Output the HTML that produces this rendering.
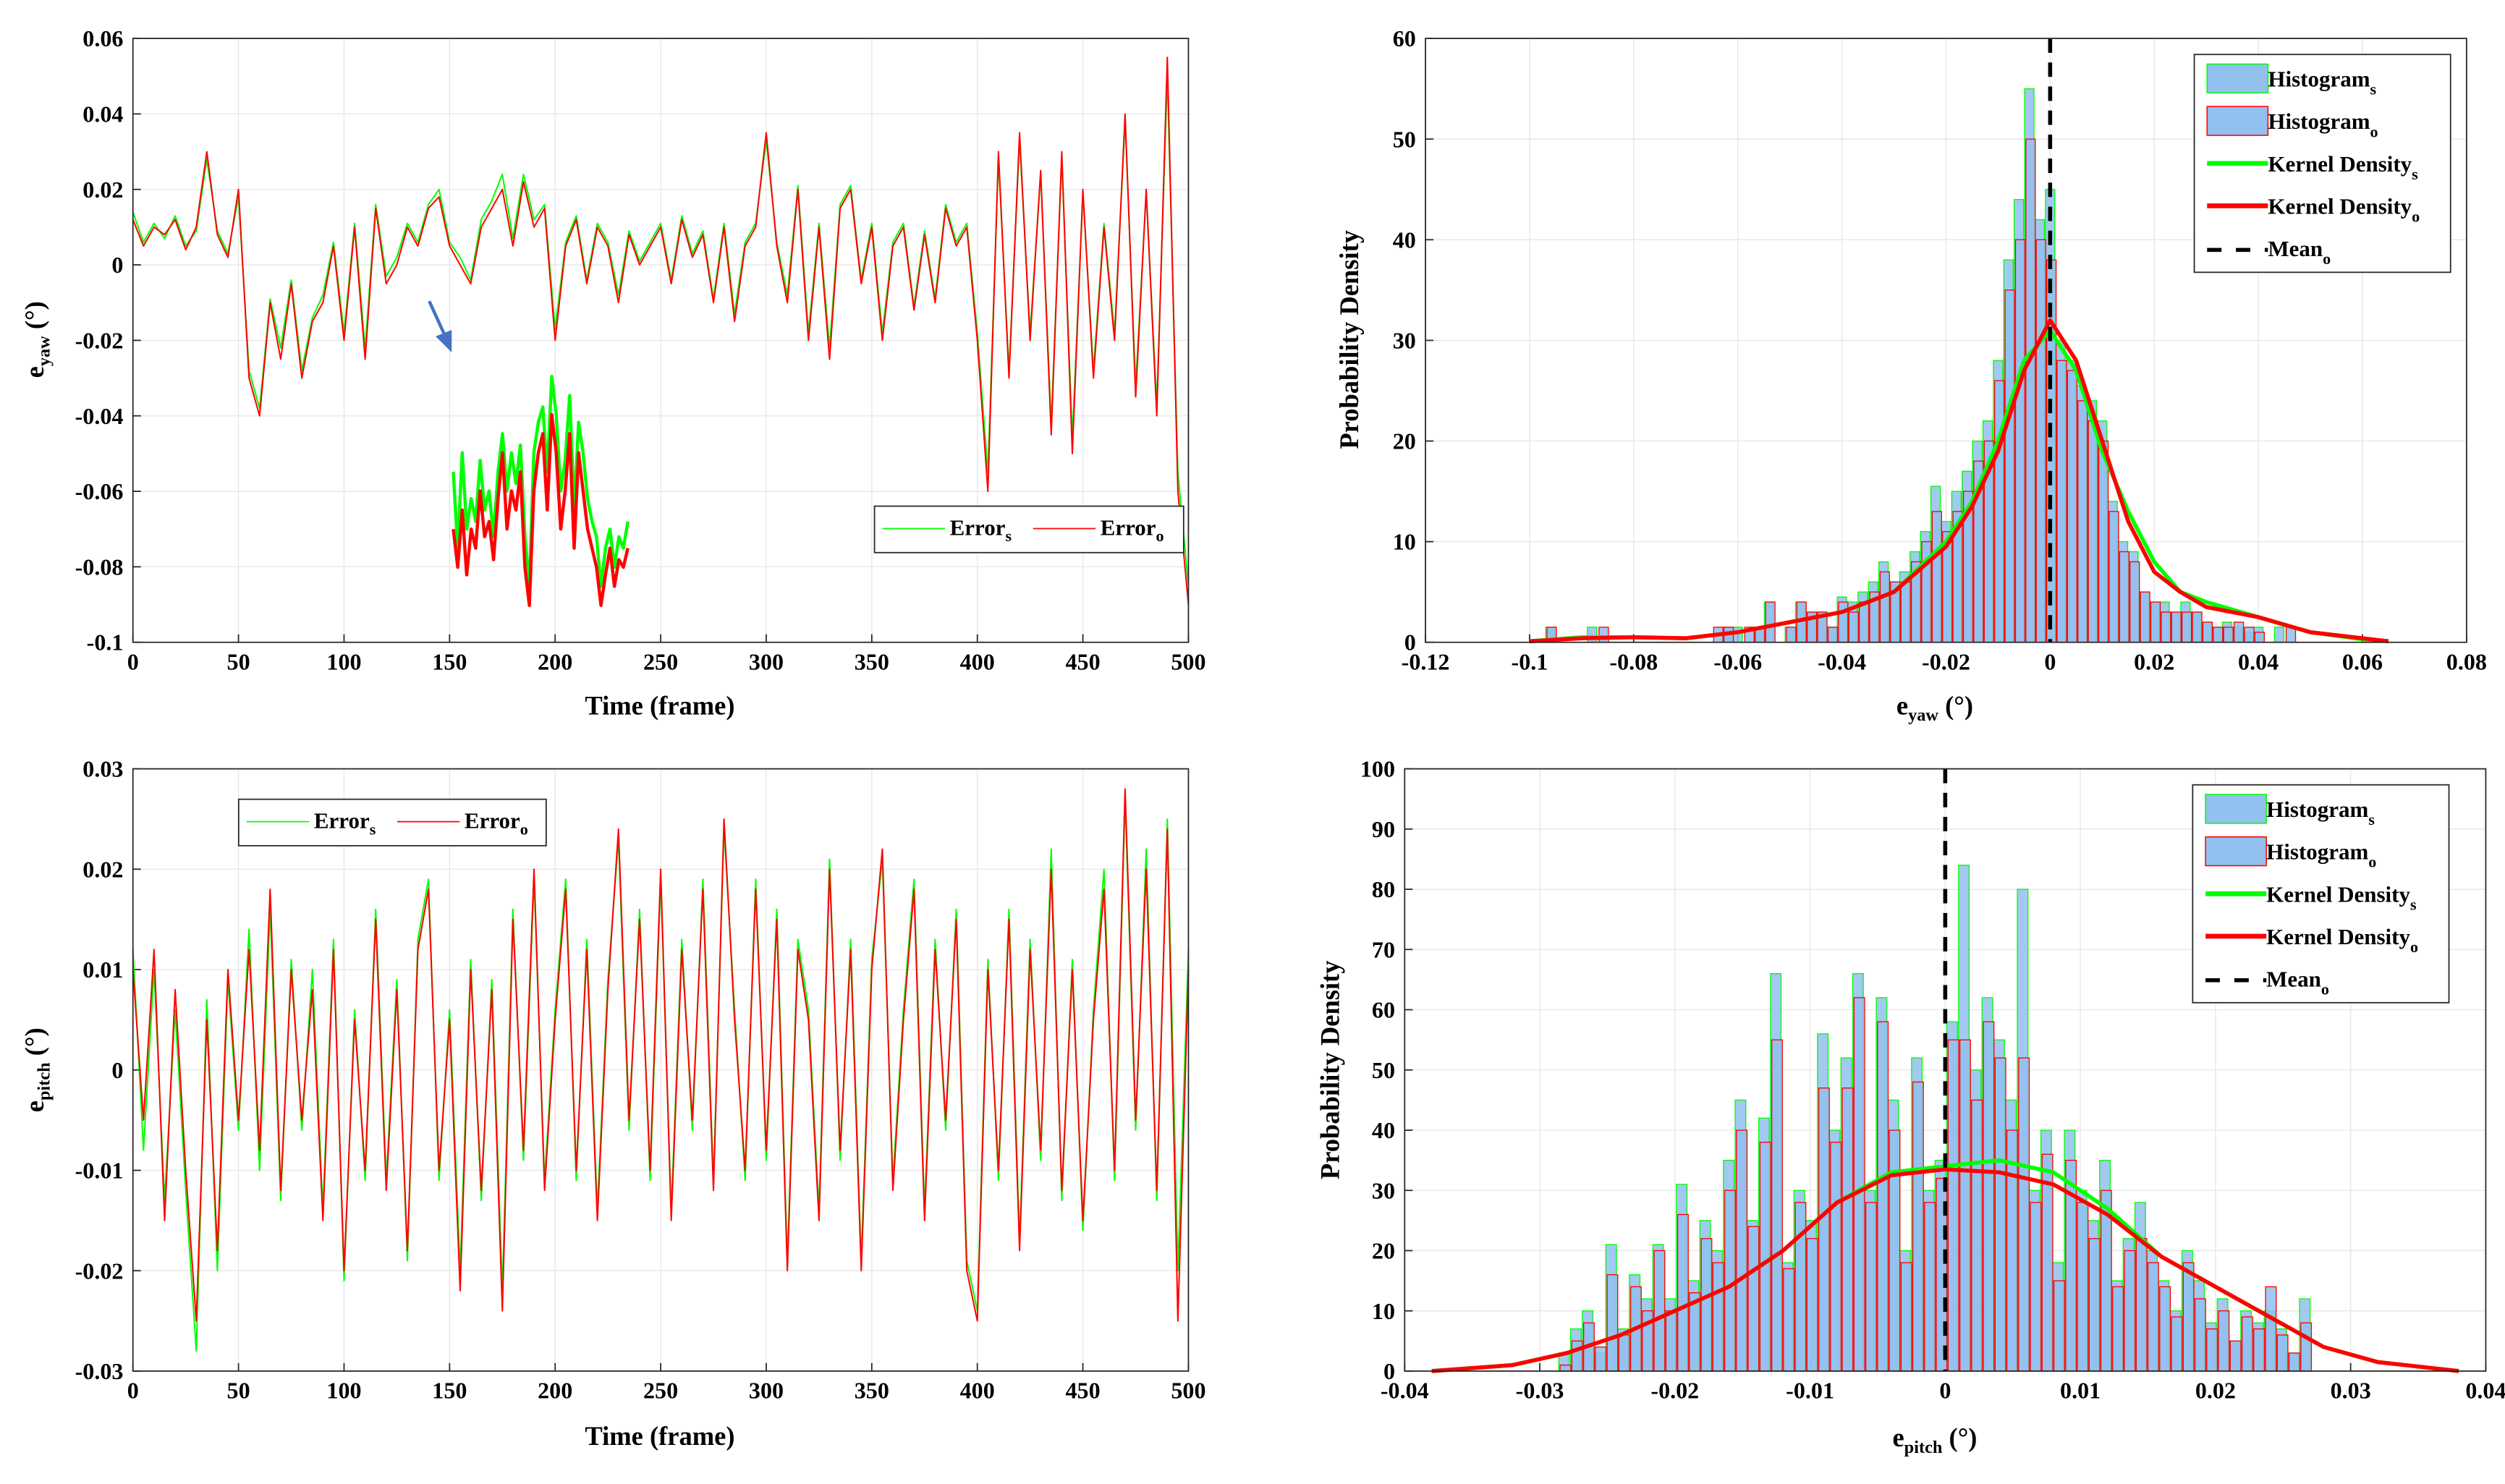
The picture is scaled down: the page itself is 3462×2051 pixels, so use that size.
<!DOCTYPE html>
<html><head><meta charset="utf-8"><style>
html,body{margin:0;padding:0;background:#fff}
svg{display:block}
text{font-family:"Liberation Serif",serif;font-weight:bold;fill:#000}
</style></head><body>
<svg id="fig" xmlns="http://www.w3.org/2000/svg" width="3462" height="2051" viewBox="0 0 1564 926.5" preserveAspectRatio="none"></svg>
<script>
// ---------- DATA ----------
const frames = [];for(let i=0;i<=100;i++)frames.push(i*5);
const yawO = [0.012,0.005,0.01,0.008,0.012,0.004,0.01,0.03,0.008,0.002,0.02,-0.03,-0.04,-0.01,-0.025,-0.005,-0.03,-0.015,-0.01,0.005,-0.02,0.01,-0.025,0.015,-0.005,0,0.01,0.005,0.015,0.018,0.005,0,-0.005,0.01,0.015,0.02,0.005,0.022,0.01,0.015,-0.02,0.005,0.012,-0.005,0.01,0.005,-0.01,0.008,0,0.005,0.01,-0.005,0.012,0.002,0.008,-0.01,0.01,-0.015,0.005,0.01,0.035,0.005,-0.01,0.02,-0.02,0.01,-0.025,0.015,0.02,-0.005,0.01,-0.02,0.005,0.01,-0.012,0.008,-0.01,0.015,0.005,0.01,-0.02,-0.06,0.03,-0.03,0.035,-0.02,0.025,-0.045,0.03,-0.05,0.02,-0.03,0.01,-0.02,0.04,-0.035,0.02,-0.04,0.055,-0.06,-0.09];
const yawS = [0.014,0.006,0.011,0.007,0.013,0.005,0.009,0.028,0.009,0.003,0.018,-0.028,-0.038,-0.009,-0.022,-0.004,-0.028,-0.014,-0.008,0.006,-0.018,0.011,-0.022,0.016,-0.003,0.002,0.011,0.006,0.016,0.02,0.006,0.002,-0.004,0.012,0.017,0.024,0.007,0.024,0.012,0.016,-0.017,0.006,0.013,-0.004,0.011,0.006,-0.008,0.009,0.001,0.006,0.011,-0.004,0.013,0.003,0.009,-0.009,0.011,-0.013,0.006,0.011,0.033,0.006,-0.008,0.021,-0.018,0.011,-0.022,0.016,0.021,-0.004,0.011,-0.018,0.006,0.011,-0.011,0.009,-0.009,0.016,0.006,0.011,-0.018,-0.055,0.028,-0.028,0.033,-0.018,0.024,-0.042,0.028,-0.046,0.019,-0.028,0.011,-0.018,0.038,-0.032,0.019,-0.037,0.05,-0.055,-0.085];
const pitchO = [0.01,-0.005,0.012,-0.015,0.008,-0.01,-0.025,0.005,-0.018,0.01,-0.005,0.012,-0.008,0.018,-0.012,0.01,-0.005,0.008,-0.015,0.012,-0.02,0.005,-0.01,0.015,-0.012,0.008,-0.018,0.012,0.018,-0.01,0.005,-0.022,0.01,-0.012,0.008,-0.024,0.015,-0.008,0.02,-0.012,0.005,0.018,-0.01,0.012,-0.015,0.008,0.024,-0.005,0.015,-0.01,0.02,-0.015,0.012,-0.005,0.018,-0.012,0.025,0.005,-0.01,0.018,-0.008,0.015,-0.02,0.012,0.005,-0.015,0.02,-0.008,0.012,-0.02,0.01,0.022,-0.012,0.005,0.018,-0.015,0.012,-0.005,0.015,-0.02,-0.025,0.01,-0.01,0.015,-0.018,0.012,-0.008,0.02,-0.012,0.01,-0.015,0.005,0.018,-0.01,0.028,-0.005,0.02,-0.012,0.024,-0.025,0.01];
const pitchS = [0.012,-0.008,0.01,-0.013,0.006,-0.012,-0.028,0.007,-0.02,0.009,-0.006,0.014,-0.01,0.016,-0.013,0.011,-0.006,0.01,-0.014,0.013,-0.021,0.006,-0.011,0.016,-0.011,0.009,-0.019,0.013,0.019,-0.011,0.006,-0.02,0.011,-0.013,0.009,-0.022,0.016,-0.009,0.019,-0.011,0.006,0.019,-0.011,0.013,-0.014,0.009,0.023,-0.006,0.016,-0.011,0.019,-0.014,0.013,-0.006,0.019,-0.011,0.024,0.006,-0.011,0.019,-0.009,0.016,-0.019,0.013,0.006,-0.014,0.021,-0.009,0.013,-0.019,0.011,0.021,-0.011,0.006,0.019,-0.014,0.013,-0.006,0.016,-0.019,-0.024,0.011,-0.011,0.016,-0.017,0.013,-0.009,0.022,-0.013,0.011,-0.016,0.006,0.02,-0.011,0.027,-0.006,0.022,-0.013,0.025,-0.02,0.012];
const insetO = [-0.07,-0.08,-0.065,-0.082,-0.07,-0.075,-0.06,-0.072,-0.068,-0.078,-0.062,-0.05,-0.07,-0.06,-0.065,-0.055,-0.08,-0.09,-0.06,-0.05,-0.045,-0.065,-0.04,-0.05,-0.07,-0.06,-0.045,-0.075,-0.05,-0.06,-0.07,-0.075,-0.08,-0.09,-0.082,-0.075,-0.085,-0.078,-0.08,-0.075];
const insetS = [-0.055,-0.075,-0.05,-0.07,-0.062,-0.068,-0.052,-0.065,-0.06,-0.072,-0.055,-0.045,-0.06,-0.05,-0.058,-0.048,-0.072,-0.085,-0.05,-0.042,-0.038,-0.055,-0.03,-0.04,-0.06,-0.052,-0.035,-0.065,-0.042,-0.05,-0.062,-0.068,-0.072,-0.085,-0.075,-0.07,-0.08,-0.072,-0.075,-0.068];
const hYawCenters=[];for(let i=0;i<=80;i++)hYawCenters.push(-0.1+i*0.002);
const hYawS=[0,0,1.5,0,0,0,1.5,0,0,0,0,0,0,0,0,0,0,0,0,1.5,1.5,0,1.5,4,0,1.5,4,3,3,1.5,4.5,4,5,6,8,6,7,9,11,15.5,12,15,17,20,22,28,38,44,55,42,45,30,28,25.5,24,22,14,10,9,5,4,4,3,4,3,2,1.5,2,1.5,1,1.5,0,1.5,0,0,0,0,0,0,0,0];
const hYawO=[0,0,1.5,0,0,0,0,1.5,0,0,0,0,0,0,0,0,0,0,1.5,1.5,0,1.5,1.5,4,0,1.5,4,3,3,1.5,4,3,4,5,7,6,6,8,10,13,11,13,15,18,20,26,35,40,50,40,38,28,27,24,22,20,13,9,8,5,4,3,3,3,3,2,1.5,1.5,2,1.5,1,0,0,1.5,0,0,0,0,0,0,0];
const kdeYawX=[-0.1,-0.09,-0.08,-0.07,-0.06,-0.05,-0.04,-0.03,-0.02,-0.015,-0.01,-0.005,0,0.005,0.01,0.015,0.02,0.025,0.03,0.04,0.05,0.06,0.065];
const kdeYawS=[0.1,0.5,0.5,0.4,1,2,3,5,10,14,20,28,31,27,19,13,8,5,4,2.5,1,0.3,0.1];
const kdeYawO=[0.1,0.4,0.5,0.4,1,2,3,5,9.5,13.5,19,27,32,28,20,12,7,5,3.5,2.5,1,0.4,0.1];
const hPitchCenters=[];for(let i=0;i<=70;i++)hPitchCenters.push(-0.0282+i*0.00087);
const hPitchS=[3,7,10,3,21,7,16,12,21,12,31,15,25,20,35,45,25,42,66,18,30,25,56,40,52,66,30,62,45,20,52,30,35,58,84,50,62,55,45,80,30,40,18,40,30,25,35,15,22,28,20,15,10,20,15,8,12,5,10,8,10,7,3,12,0,0,0,0,0,0,0];
const hPitchO=[1,5,8,4,16,6,14,10,20,10,26,13,22,18,30,40,24,38,55,17,28,22,47,38,47,62,28,58,40,18,48,28,32,55,55,45,58,52,40,52,28,36,15,35,28,22,30,14,20,22,18,14,9,18,12,7,10,5,9,7,14,6,3,8,0,0,0,0,0,0,0];
const kdePitchX=[-0.038,-0.032,-0.028,-0.024,-0.02,-0.016,-0.012,-0.008,-0.004,0,0.004,0.008,0.012,0.016,0.02,0.024,0.028,0.032,0.038];
const kdePitchS=[0,1,3,6,10,14,20,28,33,34,35,33,27,19,14,9,4,1.5,0];
const kdePitchO=[0,1,3,6,10,14,20,28,32.5,33.5,33,31,26,19,14,9,4,1.5,0];

// ---------- DRAW ----------
const NS="http://www.w3.org/2000/svg";const svg=document.getElementById('fig');
function el(tag,attrs,parent,txt){const e=document.createElementNS(NS,tag);for(const k in attrs)e.setAttribute(k,attrs[k]);if(txt!==undefined)e.textContent=txt;(parent||svg).appendChild(e);return e;}
function lin(d0,d1,r0,r1){return v=>r0+(v-d0)/(d1-d0)*(r1-r0);}
function axes(name,x0,x1,y0,y1,xt,yt,fx,fy){
  const g=el('g',{});
  const X=lin(xt[0],xt[xt.length-1],x0,x1),Y=lin(yt[0],yt[yt.length-1],y1,y0);
  el('rect',{x:x0,y:y0,width:x1-x0,height:y1-y0,fill:'#fff',stroke:'none'},g);
  xt.forEach(t=>{el('line',{x1:X(t),x2:X(t),y1:y0,y2:y1,stroke:'#e6e6e6','stroke-width':0.6},g);});
  yt.forEach(t=>{el('line',{x1:x0,x2:x1,y1:Y(t),y2:Y(t),stroke:'#e6e6e6','stroke-width':0.6},g);});
  const lab=el('g',{},g);
  xt.forEach(t=>{el('text',{x:X(t),y:y1+17,'font-size':14.5,'text-anchor':'middle'},lab,fx(t));
    el('line',{x1:X(t),x2:X(t),y1:y1,y2:y1-5,stroke:'#262626','stroke-width':0.8},g);});
  yt.forEach(t=>{el('text',{x:x0-6,y:Y(t)+5,'font-size':14.5,'text-anchor':'end'},lab,fy(t));
    el('line',{x1:x0,x2:x0+5,y1:Y(t),y2:Y(t),stroke:'#262626','stroke-width':0.8},g);});
  return {g,X,Y,x0,x1,y0,y1};
}
function frame(a){el('rect',{x:a.x0,y:a.y0,width:a.x1-a.x0,height:a.y1-a.y0,fill:'none',stroke:'#262626','stroke-width':0.8},a.g);}
function poly(a,xs,ys,color,w,name){const p=el('polyline',{points:xs.map((x,i)=>a.X(x).toFixed(2)+','+a.Y(ys[i]).toFixed(2)).join(' '),fill:'none',stroke:color,'stroke-width':w,'stroke-linejoin':'round'},a.g);return p;}
const ftick=d=>v=>{if(Math.abs(v)<1e-9)return '0';let s=v.toFixed(d);if(s.indexOf('.')>=0)s=s.replace(/0+$/,'').replace(/\.$/,'');return s;};
const range=(a,b,s)=>{const r=[];for(let v=a;v<=b+s/1e3;v+=s)r.push(+v.toFixed(6));return r;};

// Panel 1
const A1=axes('yaw-time-plot',83,742,24,401,range(0,500,50),range(-0.1,0.06,0.02),ftick(0),ftick(2));
poly(A1,frames,yawS,'#00ff00',0.9,'yaw-error-s-line');
poly(A1,frames,yawO,'#ff0000',0.9,'yaw-error-o-line');
const insX=[];for(let i=0;i<insetO.length;i++)insX.push(i);
const AI={g:A1.g,X:lin(0,insetO.length-1,283,392),Y:lin(-0.09,-0.03,378,235)};
poly(AI,insX,insetS,'#00ff00',2,'inset-error-s-line');
poly(AI,insX,insetO,'#ff0000',2,'inset-error-o-line');
const arr=el('g',{},A1.g);
el('line',{x1:268,y1:188,x2:278,y2:210,stroke:'#4472c4','stroke-width':2},arr);
el('polygon',{points:'282,220 272,210 282,206',fill:'#4472c4'},arr);
frame(A1);
el('text',{x:412,y:446,'font-size':16.5,'text-anchor':'middle'},A1.g,'Time (frame)');
const yt1=el('text',{transform:'translate(27,212) rotate(-90)','font-size':16.5,'text-anchor':'middle'},A1.g);
yt1.innerHTML='e<tspan font-size="11" dy="4">yaw</tspan><tspan dy="-4"> (°)</tspan>';
function tsLegend(a,x,y,w,name){const g=el('g',{},a.g);
  el('rect',{x:x,y:y,width:w,height:29,fill:'#fff',stroke:'#262626','stroke-width':0.8},g);
  el('line',{x1:x+5,x2:x+44,y1:y+14,y2:y+14,stroke:'#00ff00','stroke-width':0.8},g);
  const t1=el('text',{x:x+47,y:y+18,'font-size':14},g);t1.innerHTML='Error<tspan font-size="10" dy="4">s</tspan>';
  el('line',{x1:x+99,x2:x+138,y1:y+14,y2:y+14,stroke:'#ff0000','stroke-width':0.8},g);
  const t2=el('text',{x:x+141,y:y+18,'font-size':14},g);t2.innerHTML='Error<tspan font-size="10" dy="4">o</tspan>';}
tsLegend(A1,546,316,193,'yaw-legend');

// Panel 3
const A3=axes('pitch-time-plot',83,742,480,856,range(0,500,50),range(-0.03,0.03,0.01),ftick(0),ftick(2));
poly(A3,frames,pitchS,'#00ff00',0.9,'pitch-error-s-line');
poly(A3,frames,pitchO,'#ff0000',0.9,'pitch-error-o-line');
frame(A3);
el('text',{x:412,y:902,'font-size':16.5,'text-anchor':'middle'},A3.g,'Time (frame)');
const yt3=el('text',{transform:'translate(27,668) rotate(-90)','font-size':16.5,'text-anchor':'middle'},A3.g);
yt3.innerHTML='e<tspan font-size="11" dy="4">pitch</tspan><tspan dy="-4"> (°)</tspan>';
tsLegend(A3,149,499,192,'pitch-legend');

function hist(a,centers,hs,ho,bw,name){
  const g=el('g',{},a.g);
  const w=(a.X(bw)-a.X(0))*0.9;
  centers.forEach((c,i)=>{
    if(hs[i]>0){const r=el('rect',{x:a.X(c)-w/2,y:a.Y(hs[i]),width:w,height:a.Y(0)-a.Y(hs[i]),fill:'#92c0ef','fill-opacity':0.85,stroke:'#00ff00','stroke-width':0.6},g);}
  });
  centers.forEach((c,i)=>{
    if(ho[i]>0){const r=el('rect',{x:a.X(c)-w/2+0.8,y:a.Y(ho[i]),width:w,height:a.Y(0)-a.Y(ho[i]),fill:'#92c0ef','fill-opacity':0.85,stroke:'#ff0000','stroke-width':0.6},g);}
  });
}
function histLegend(a,x,y,name){const g=el('g',{},a.g);
  el('rect',{x:x,y:y,width:160,height:136,fill:'#fff',stroke:'#262626','stroke-width':0.8},g);
  const rows=[['Histogram','s','h','#00ff00'],['Histogram','o','h','#ff0000'],['Kernel Density','s','l','#00ff00'],['Kernel Density','o','l','#ff0000'],['Mean','o','d','#000']];
  rows.forEach((r,i)=>{const cy=y+14+i*26.5;
    if(r[2]=='h')el('rect',{x:x+8,y:cy-8,width:38,height:18,fill:'#92c0ef',stroke:r[3],'stroke-width':0.7},g);
    else if(r[2]=='l')el('line',{x1:x+8,x2:x+46,y1:cy+1,y2:cy+1,stroke:r[3],'stroke-width':3},g);
    else el('line',{x1:x+8,x2:x+46,y1:cy+2,y2:cy+2,stroke:'#000','stroke-width':2.5,'stroke-dasharray':'9,9'},g);
    const t=el('text',{x:x+46,y:cy+6,'font-size':14},g);t.innerHTML=r[0]+'<tspan font-size="10" dy="5">'+r[1]+'</tspan>';});
}
// Panel 2
const A2=axes('yaw-density-plot',890,1540,24,401,range(-0.12,0.08,0.02),range(0,60,10),ftick(2),ftick(0));
hist(A2,hYawCenters,hYawS,hYawO,0.002,'yaw-histogram');
poly(A2,kdeYawX,kdeYawS,'#00ff00',2.5,'yaw-kde-s');
poly(A2,kdeYawX,kdeYawO,'#ff0000',2.5,'yaw-kde-o');
el('line',{x1:A2.X(0),x2:A2.X(0),y1:24,y2:401,stroke:'#000','stroke-width':2.5,'stroke-dasharray':'9,6'},A2.g);
frame(A2);histLegend(A2,1370,34,'yaw-density-legend');
const xt2=el('text',{x:1208,y:446,'font-size':16.5,'text-anchor':'middle'},A2.g);xt2.innerHTML='e<tspan font-size="11" dy="4">yaw</tspan><tspan dy="-4"> (°)</tspan>';
el('text',{transform:'translate(848,212) rotate(-90)','font-size':16.5,'text-anchor':'middle'},A2.g,'Probability Density');

// Panel 4
const A4=axes('pitch-density-plot',877,1552,480,856,range(-0.04,0.04,0.01),range(0,100,10),ftick(2),ftick(0));
hist(A4,hPitchCenters,hPitchS,hPitchO,0.00087,'pitch-histogram');
poly(A4,kdePitchX,kdePitchS,'#00ff00',2.5,'pitch-kde-s');
poly(A4,kdePitchX,kdePitchO,'#ff0000',2.5,'pitch-kde-o');
el('line',{x1:A4.X(0),x2:A4.X(0),y1:480,y2:856,stroke:'#000','stroke-width':2.5,'stroke-dasharray':'9,6'},A4.g);
frame(A4);histLegend(A4,1369,490,'pitch-density-legend');
const xt4=el('text',{x:1208,y:903,'font-size':16.5,'text-anchor':'middle'},A4.g);xt4.innerHTML='e<tspan font-size="11" dy="4">pitch</tspan><tspan dy="-4"> (°)</tspan>';
el('text',{transform:'translate(836,668) rotate(-90)','font-size':16.5,'text-anchor':'middle'},A4.g,'Probability Density');
</script>
</body></html>
